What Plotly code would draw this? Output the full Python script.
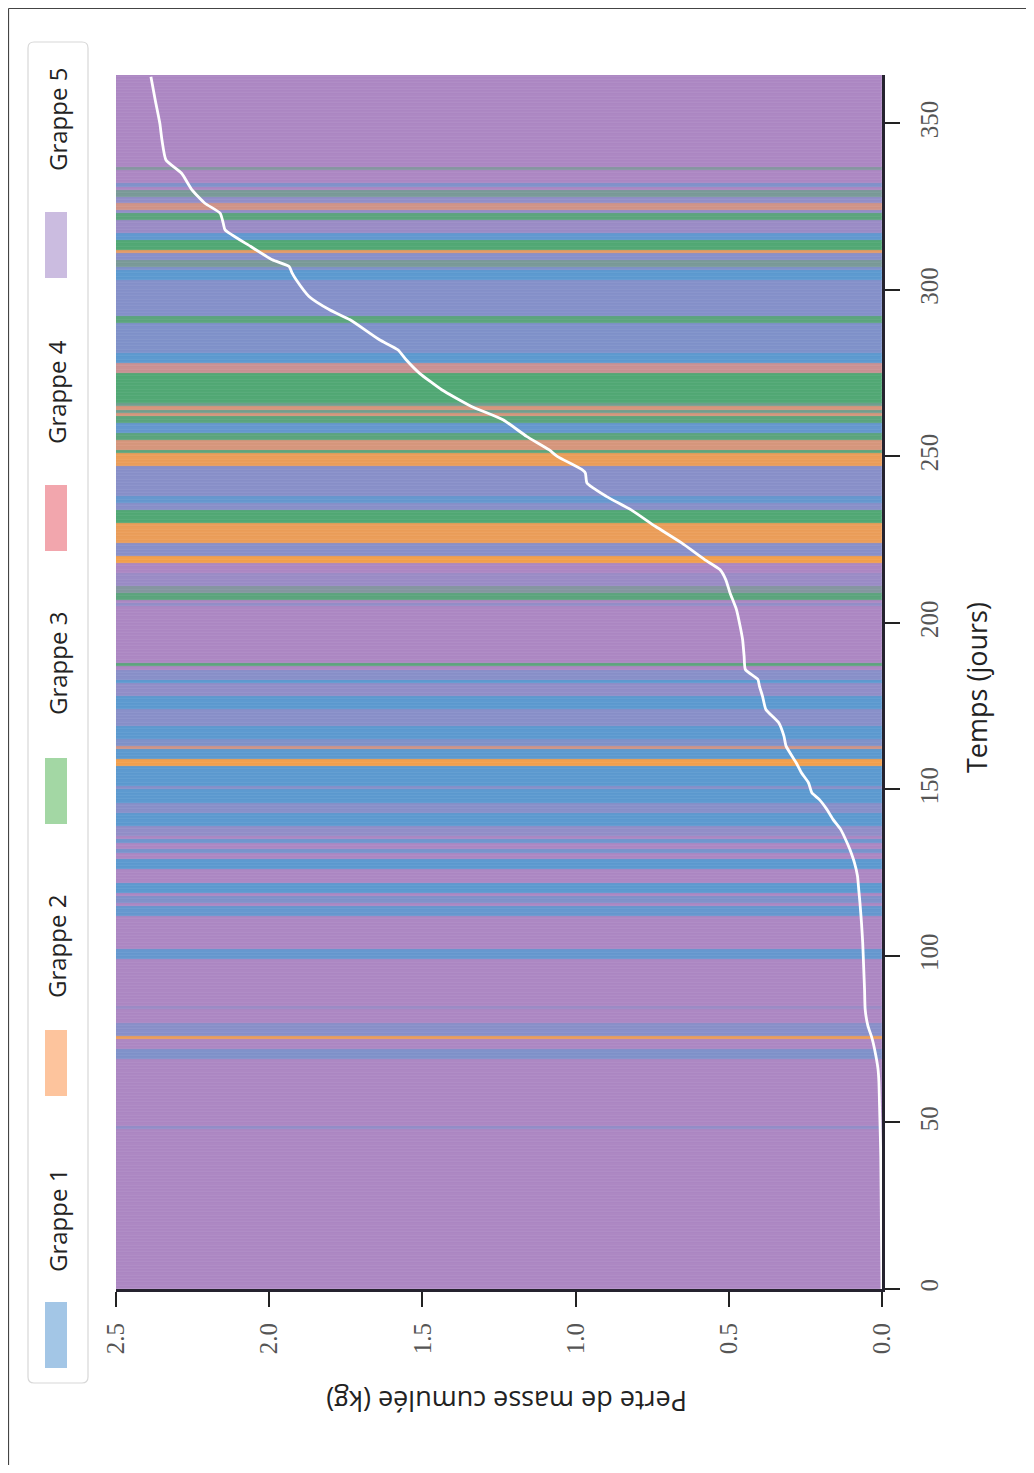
import plotly.graph_objects as go

# ---------------- data ----------------
days_curve = [0, 20, 40, 48, 55, 62, 66, 70, 74, 76, 79, 84, 90, 97, 104, 110, 116, 120, 124,
              128, 132, 134, 138, 141, 144, 147, 149, 152, 155, 158, 163, 166, 170, 174, 178,
              181, 183, 186, 190, 195, 199, 204, 209, 213, 216, 219, 224, 229, 234, 238, 242,
              245, 246, 250, 252, 256, 261, 265, 270, 275, 279, 282, 285, 291, 294, 298, 303,
              305, 307, 309, 313, 318, 320, 323, 326, 330, 335, 339, 345, 350, 357, 364]
mass_loss = [0.0, 0.002, 0.004, 0.006, 0.008, 0.010, 0.013, 0.020, 0.029, 0.035, 0.046, 0.055,
             0.057, 0.060, 0.063, 0.067, 0.072, 0.076, 0.080, 0.090, 0.105, 0.114, 0.135, 0.160,
             0.180, 0.205, 0.229, 0.240, 0.263, 0.280, 0.313, 0.320, 0.337, 0.379, 0.390, 0.400,
             0.405, 0.446, 0.450, 0.455, 0.463, 0.475, 0.496, 0.510, 0.529, 0.579, 0.654, 0.740,
             0.820, 0.900, 0.963, 0.968, 0.979, 1.060, 1.087, 1.160, 1.237, 1.340, 1.437, 1.510,
             1.553, 1.580, 1.640, 1.736, 1.803, 1.870, 1.912, 1.925, 1.935, 1.990, 2.060, 2.144,
             2.150, 2.160, 2.210, 2.252, 2.286, 2.337, 2.350, 2.357, 2.372, 2.386]

n_days = 365
band_start = [48, 69, 75, 76, 84, 99, 112, 116, 119, 126, 131, 134, 136, 139, 143, 146, 150, 151,
              157, 159, 162, 163, 165, 169, 174, 178, 182, 183, 187, 205, 207, 209, 211, 218, 220,
              224, 230, 234, 236, 238, 247, 251, 252, 255, 257, 260, 262, 263, 264, 265, 266, 275,
              278, 281, 290, 292, 303, 306, 307, 309, 311, 312, 315, 317, 321, 323, 324, 326, 328,
              331, 336]
band_end = [48, 71, 75, 79, 84, 101, 114, 117, 121, 128, 131, 134, 138, 142, 145, 149, 150, 156,
            158, 161, 162, 164, 168, 173, 177, 181, 182, 185, 187, 205, 208, 210, 214, 219, 223,
            229, 233, 235, 237, 246, 250, 251, 254, 256, 259, 261, 262, 263, 264, 265, 274, 277,
            280, 289, 291, 302, 305, 306, 308, 310, 311, 314, 316, 320, 322, 323, 325, 327, 329,
            331, 336]
band_cluster = [1, 1, 2, 1, 1, 1, 1, 1, 1, 1, 1, 1, 1, 1, 1, 1, 1, 1,
                2, 1, 2, 1, 1, 1, 1, 1, 1, 1, 3, 1, 3, 3, 1, 2, 1,
                2, 3, 1, 1, 1, 2, 3, 2, 3, 1, 3, 2, 3, 2, 3, 3, 2,
                1, 1, 3, 1, 1, 1, 3, 1, 2, 3, 1, 1, 3, 1, 2, 1, 3,
                1, 3]
band_strength = [0.3, 0.5, 0.9, 0.4, 0.2, 0.8, 0.8, 0.5, 0.9, 0.9, 0.6, 0.7, 0.3, 0.9, 0.4, 0.9, 0.4, 0.9,
                 1.0, 0.9, 0.5, 0.5, 0.9, 0.4, 0.9, 0.3, 0.9, 0.4, 0.8, 0.3, 0.8, 0.4, 0.2, 1.0, 0.4,
                 0.9, 0.9, 0.4, 0.8, 0.4, 0.9, 0.8, 0.6, 0.8, 0.8, 0.8, 0.6, 0.6, 0.6, 0.6, 0.9, 0.4,
                 0.9, 0.5, 0.8, 0.45, 0.9, 0.5, 0.5, 0.4, 0.8, 0.9, 0.85, 0.2, 0.8, 0.3, 0.5, 0.3, 0.5,
                 0.5, 0.4]

legend_labels = ["Grappe 1", "Grappe 2", "Grappe 3", "Grappe 4", "Grappe 5"]
x_tickvals = [0.0, 0.5, 1.0, 1.5, 2.0, 2.5]
y_tickvals = [0, 50, 100, 150, 200, 250, 300, 350]

# ---------------- styles ----------------
base_rgb = (173, 136, 195)
cluster_rgb = {1: (84, 156, 210), 2: (242, 160, 78), 3: (72, 172, 108), 4: (230, 110, 120), 5: base_rgb}
legend_colors = ["#a3c6e6", "#fdc49d", "#a3d7a4", "#f2a6ad", "#cbbce0"]

day_rgb = [base_rgb] * n_days
for s, e, c, a in zip(band_start, band_end, band_cluster, band_strength):
    for d in range(s, e + 1):
        cr = cluster_rgb[c]
        day_rgb[d] = tuple(round(base_rgb[i] * (1 - a) + cr[i] * a) for i in range(3))
day_colors = ["rgb(%d,%d,%d)" % c for c in day_rgb]

# page offset from the default 8px body margin
OFF = 8
W, H = 1034 - 2 * OFF, 1473 - 2 * OFF
# plot-area edges in page pixels
L, R, T, B = 116, 882, 75, 1289

fig = go.Figure()
fig.add_trace(go.Bar(
    y=list(range(n_days)), x=[2.5] * n_days, orientation="h",
    width=1, offset=0,
    marker=dict(color=day_colors, line=dict(color=day_colors, width=0.6)),
    hoverinfo="skip", showlegend=False,
))
fig.add_trace(go.Scatter(
    x=mass_loss, y=days_curve, mode="lines",
    line=dict(color="white", width=2.8, shape="spline", smoothing=0.5), showlegend=False,
))

tick_font = dict(family="Liberation Serif", size=25, color="#555555")
fig.update_layout(
    width=W, height=H, autosize=False,
    margin=dict(l=L - OFF, r=W - (R - OFF), t=T - OFF, b=H - (B - OFF)),
    paper_bgcolor="white", plot_bgcolor="white",
    bargap=0, showlegend=False,
    xaxis=dict(range=[2.5, 0], tickvals=x_tickvals,
               ticktext=["%.1f" % v for v in x_tickvals],
               tickangle=-90, ticks="outside", ticklen=15, tickwidth=2, tickcolor="#222",
               ticklabelstandoff=6,
               showline=True, linewidth=3, linecolor="#25232f", showgrid=False, zeroline=False,
               tickfont=tick_font),
    yaxis=dict(range=[0, 364.5], side="right", tickvals=y_tickvals,
               tickangle=-90, ticks="outside", ticklen=15, tickwidth=2, tickcolor="#222",
               ticklabelstandoff=8,
               showline=True, linewidth=3, linecolor="#25232f", showgrid=False, zeroline=False,
               tickfont=tick_font),
)

def px(x):
    return (x - L) / (R - L)
def py(y):
    return (B - y) / (B - T)

title_font = dict(family="Open Sans", size=27, color="#222222")
fig.add_annotation(text="Temps (jours)", xref="paper", yref="paper", x=px(976), y=py(688),
                   textangle=-90, showarrow=False, font=title_font, xanchor="center", yanchor="middle")
fig.add_annotation(text="Perte de masse cumulée (kg)", xref="paper", yref="paper", x=px(507), y=py(1402),
                   textangle=180, showarrow=False, font=title_font, xanchor="center", yanchor="middle")

# legend (rotated)
x0, x1, y0, y1, r = px(28), px(88), py(1383), py(42), 6
rx, ry = r / (R - L), r / (B - T)
path = (f"M {x0+rx},{y0} L {x1-rx},{y0} Q {x1},{y0} {x1},{y0+ry} L {x1},{y1-ry} Q {x1},{y1} {x1-rx},{y1} "
        f"L {x0+rx},{y1} Q {x0},{y1} {x0},{y1-ry} L {x0},{y0+ry} Q {x0},{y0} {x0+rx},{y0} Z")
fig.add_shape(type="path", path=path, xref="paper", yref="paper",
              line=dict(color="#d8d8d8", width=1.2), fillcolor="rgba(255,255,255,0.9)")
patch_centers = [1335, 1063, 791, 518, 245]
label_centers = [1221, 947, 664, 392, 120]
for lab, col, pc, lc in zip(legend_labels, legend_colors, patch_centers, label_centers):
    fig.add_shape(type="rect", xref="paper", yref="paper",
                  x0=px(45), x1=px(67), y0=py(pc + 33), y1=py(pc - 33),
                  line=dict(width=0), fillcolor=col)
    fig.add_annotation(text=lab, xref="paper", yref="paper", x=px(57), y=py(lc),
                       textangle=-90, showarrow=False, xanchor="center", yanchor="middle",
                       font=dict(family="Open Sans", size=24, color="#222222"))

# outer frame: top and left edges
fig.add_shape(type="line", xref="paper", yref="paper", x0=px(OFF + 0.5), x1=px(OFF + 0.5),
              y0=py(1473), y1=py(OFF + 0.5), line=dict(color="#444444", width=1.2))
fig.add_shape(type="line", xref="paper", yref="paper", x0=px(OFF + 0.5), x1=px(1034),
              y0=py(OFF + 0.5), y1=py(OFF + 0.5), line=dict(color="#444444", width=1.2))

fig.write_html("out.html")
